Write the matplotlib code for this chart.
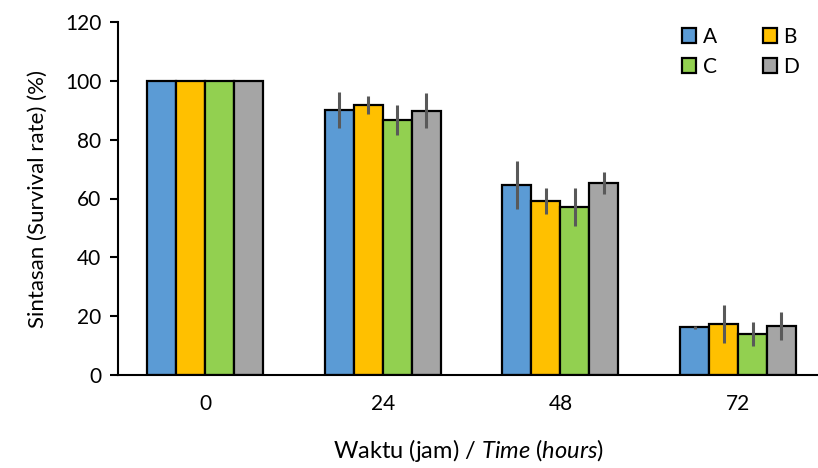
import numpy as np
import matplotlib.pyplot as plt

times = ['0', '24', '48', '72']
groups = ['A', 'B', 'C', 'D']
colors = ['#5b9bd5', '#ffc000', '#92d050', '#a5a5a5']

survival = {
    'A': [100, 90.1, 64.6, 16.3],
    'B': [100, 91.8, 59.1, 17.3],
    'C': [100, 86.7, 57.1, 13.9],
    'D': [100, 89.8, 65.3, 16.7],
}
err = {
    'A': [0, 6.0, 8.0, 0.5],
    'B': [0, 3.0, 4.3, 6.5],
    'C': [0, 5.0, 6.5, 4.0],
    'D': [0, 6.0, 3.8, 4.8],
}

plt.rcParams['font.family'] = ['Lato', 'DejaVu Sans']
plt.rcParams['mathtext.fontset'] = 'custom'
plt.rcParams['mathtext.rm'] = 'Lato'
plt.rcParams['mathtext.it'] = 'Lato:italic'

fig = plt.figure(figsize=(8.18, 4.68), dpi=100)
ax = fig.add_axes([118/818, 93/468, 700/818, 353/468])

x = np.arange(len(times))
w = 0.163
bars = []
for i, g in enumerate(groups):
    b = ax.bar(x + (i - 1.5) * w, survival[g], w, color=colors[i], edgecolor='black',
               linewidth=1.6, label=g, zorder=2)
    bars.append(b)
    ax.errorbar(x + (i - 1.5) * w, survival[g], yerr=err[g], fmt='none',
                ecolor='#595959', elinewidth=2.2, capsize=0, zorder=3)

ax.set_xlim(-0.49, 3.45)
ax.set_ylim(0, 120)
ax.set_yticks(range(0, 121, 20))
ax.set_xticks(x)
ax.set_xticklabels(times)
ax.spines['top'].set_visible(False)
ax.spines['right'].set_visible(False)
ax.spines['left'].set_linewidth(1.5)
ax.spines['bottom'].set_linewidth(1.5)
ax.tick_params(axis='y', length=6, width=1.5, labelsize=15, pad=6)
ax.tick_params(axis='x', length=0, labelsize=15, pad=14)

ax.set_ylabel('Sintasan (Survival rate) (%)', fontsize=16, labelpad=12)
ax.set_xlabel(r'Waktu (jam) / $\it{Time\ (hours)}$', fontsize=17, labelpad=16)

# row-wise order: A B / C D
order = [0, 2, 1, 3]
ax.legend([bars[k] for k in order], [groups[k] for k in order], ncol=2,
          loc='upper right', bbox_to_anchor=(1.0, 1.04), frameon=False,
          fontsize=15, handlelength=0.7, handleheight=0.7, handletextpad=0.3,
          columnspacing=2.2, labelspacing=0.5)

plt.savefig('out.png', dpi=100)
